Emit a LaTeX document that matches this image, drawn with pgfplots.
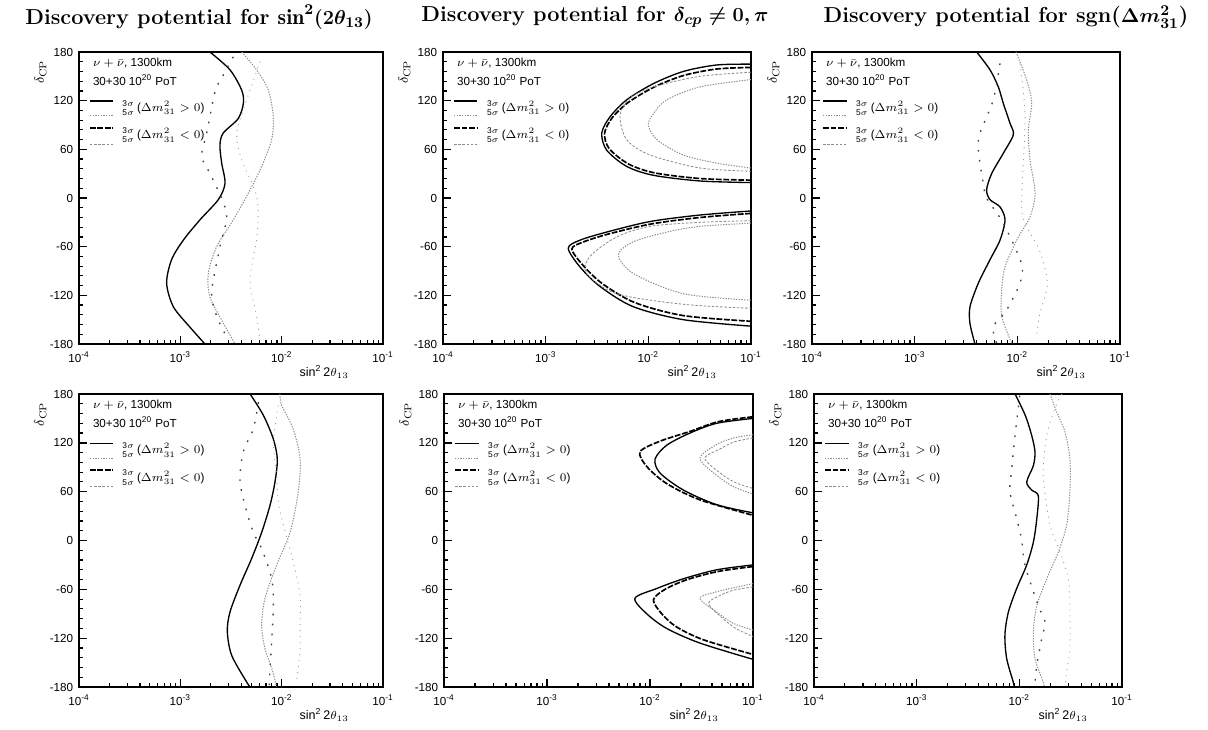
\documentclass[border=0pt]{standalone}
\usepackage{fontspec}
\usepackage{pgfplots}
\pgfplotsset{compat=1.18}
\newfontfamily\arial{Liberation Sans}
\newcommand\lf{\arial\fontsize{7}{8}\selectfont}
\newcommand\smf{\arial\fontsize{5}{5}\selectfont}
\tikzset{
 s3p/.style={black, line width=0.8pt},
 s5p/.style={black!45, line width=0.6pt, dash pattern=on 0.8pt off 0.8pt},
 s3m/.style={black, line width=1pt, dash pattern=on 3.5pt off 1pt},
 s5m/.style={black!45, line width=0.5pt, dash pattern=on 1.5pt off 1pt},
 f3m/.style={black!75, line width=0.8pt, dash pattern=on 1pt off 5pt},
 f5m/.style={black!40, line width=0.5pt, dash pattern=on 0.6pt off 3pt},
}
\pgfplotsset{
  scale only axis, xmin=1e-4, xmax=1e-1, ymin=-180, ymax=180,
  axis line style={line width=0.9pt},
  tick pos=left, tick align=inside,
  major tick length=5pt, minor tick length=2.6pt,
  major tick style={black, line width=0.8pt},
  minor tick style={black, line width=0.7pt},
  xtick={1e-4,1e-3,1e-2,1e-1},
  xticklabels={10\textsuperscript{-4},10\textsuperscript{-3},10\textsuperscript{-2},10\textsuperscript{-1}},
  minor xtick={2e-4,3e-4,4e-4,5e-4,6e-4,7e-4,8e-4,9e-4,2e-3,3e-3,4e-3,5e-3,6e-3,7e-3,8e-3,9e-3,2e-2,3e-2,4e-2,5e-2,6e-2,7e-2,8e-2,9e-2},
  ytick={-180,-120,-60,0,60,120,180},
  minor ytick={-168,-156,-144,-132,-108,-96,-84,-72,-48,-36,-24,-12,12,24,36,48,72,84,96,108,132,144,156,168},
  tick label style={font=\arial\fontsize{7}{8}\selectfont},
  yticklabel style={/pgf/number format/assume math mode=true},
  xticklabel style={yshift=-1pt},
  xlabel={sin\textsuperscript{2}\,2$\theta_{13}$},
  xlabel style={font=\arial\fontsize{7.5}{9}\selectfont, at={(rel axis cs:1,0)}, anchor=east, xshift=-17pt, yshift=-16.8pt},
  ylabel={$\delta_{\mathrm{CP}}$},
  ylabel style={font=\fontsize{8}{9}\selectfont, at={(rel axis cs:0,1)}, anchor=center, yshift=23pt, xshift=-12pt},
}
\newcommand\panellegend{%
 \node[anchor=west,font=\lf,inner sep=0pt] at (rel axis cs:0.045,0.962) {$\nu+\bar{\nu}$, 1300km};
 \node[anchor=west,font=\lf,inner sep=0pt] at (rel axis cs:0.045,0.904) {30+30 10\textsuperscript{20} PoT};
 \draw[s3p] (rel axis cs:0.036,0.832) -- (rel axis cs:0.112,0.832);
 \draw[s5p] (rel axis cs:0.036,0.781) -- (rel axis cs:0.112,0.781);
 \draw[s3m] (rel axis cs:0.036,0.740) -- (rel axis cs:0.112,0.740);
 \draw[s5m] (rel axis cs:0.036,0.685) -- (rel axis cs:0.112,0.685);
 \node[font=\smf,inner sep=0pt] at (rel axis cs:0.162,0.824) {3$\sigma$};
 \node[font=\smf,inner sep=0pt] at (rel axis cs:0.162,0.792) {5$\sigma$};
 \node[font=\smf,inner sep=0pt] at (rel axis cs:0.162,0.731) {3$\sigma$};
 \node[font=\smf,inner sep=0pt] at (rel axis cs:0.162,0.699) {5$\sigma$};
 \node[anchor=west,font=\lf,inner sep=0pt] at (rel axis cs:0.19,0.808) {($\Delta m^2_{31} > 0$)};
 \node[anchor=west,font=\lf,inner sep=0pt] at (rel axis cs:0.19,0.715) {($\Delta m^2_{31} < 0$)};
}
\begin{document}
\begin{tikzpicture}
\path[use as bounding box] (0,0) rectangle (724.8pt,437.4pt);
\node[font=\fontsize{13}{15}\selectfont\bfseries\boldmath] at (119.4pt,427.2pt) {Discovery potential for $\sin^2(2\theta_{13})$};
\node[font=\fontsize{13}{15}\selectfont\bfseries\boldmath] at (357pt,427.2pt) {Discovery potential for $\delta_{cp}\neq 0,\pi$};
\node[font=\fontsize{13}{15}\selectfont\bfseries\boldmath] at (603.6pt,427.2pt) {Discovery potential for sgn($\Delta m^2_{31}$)};

% ---------- Panel 1 ----------
\begin{axis}[xmode=log, at={(47.4pt,231pt)}, anchor=south west, width=182.4pt, height=175.2pt]
\addplot[s3p, smooth] coordinates {(1.96e-3,180)(3.09e-3,158)(4.03e-3,133)(4.19e-3,117)(3.73e-3,98)(2.65e-3,80)(2.46e-3,65)(2.56e-3,43)(2.76e-3,18)(2.37e-3,-2)(1.56e-3,-27)(1.07e-3,-52)(8.20e-4,-76)(7.33e-4,-105)(8.53e-4,-134)(1.24e-3,-159)(1.75e-3,-180)};
\addplot[s5p, smooth] coordinates {(4.04e-3,180)(5.66e-3,158)(7.38e-3,133)(8.28e-3,100)(7.96e-3,72)(6.35e-3,39)(4.88e-3,10)(3.33e-3,-27)(2.28e-3,-60)(1.89e-3,-93)(1.96e-3,-122)(2.65e-3,-154)(3.47e-3,-180)};
\addplot[f3m, smooth] coordinates {(3.33e-3,174)(2.56e-3,148)(2.20e-3,131)(1.82e-3,80)(1.63e-3,51)(2.04e-3,26)(2.86e-3,-19)(2.46e-3,-60)(2.04e-3,-116)(2.29e-3,-146)(2.97e-3,-175)};
\addplot[f5m, smooth] coordinates {(6.11e-3,168)(4.52e-3,121)(3.60e-3,80)(4.03e-3,47)(5.67e-3,2)(5.75e-3,-44)(4.88e-3,-101)(5.67e-3,-146)(6.11e-3,-175)};
\panellegend
\end{axis}

% ---------- Panel 2 ----------
\begin{axis}[xmode=log, at={(265.8pt,231pt)}, anchor=south west, width=184.8pt, height=175.2pt]
\addplot[s3p, smooth] coordinates {(0.1,165)(4.63e-2,164)(2.19e-2,156)(1.12e-2,141)(6.15e-3,121)(4.23e-3,100)(3.52e-3,80)(3.93e-3,59)(6.15e-3,39)(1.12e-2,28)(3.18e-2,21)(0.1,19)};
\addplot[s3m, smooth] coordinates {(0.1,161)(4.6e-2,159)(2.2e-2,151)(1.15e-2,137)(6.4e-3,118)(4.45e-3,99)(3.75e-3,80)(4.15e-3,61)(6.4e-3,42)(1.15e-2,31)(3.2e-2,24)(0.1,22)};
\addplot[s5p, smooth] coordinates {(0.1,146)(3.18e-2,137)(1.51e-2,121)(1.12e-2,104)(1.0e-2,90)(1.21e-2,72)(2.19e-2,53)(4.63e-2,43)(0.1,37)};
\addplot[s5m, smooth] coordinates {(0.1,155)(3.18e-2,150)(1.12e-2,137)(6.62e-3,123)(5.30e-3,102)(6.15e-3,72)(1.04e-2,53)(3.18e-2,37)(0.1,33)};
\addplot[s3p, smooth] coordinates {(0.1,-16)(3.18e-2,-21)(1.04e-2,-29)(3.93e-3,-42)(2.16e-3,-52)(1.66e-3,-62)(2.16e-3,-85)(3.38e-3,-109)(7.13e-3,-134)(2.19e-2,-150)(0.1,-158)};
\addplot[s3m, smooth] coordinates {(0.1,-19)(3.2e-2,-24)(1.07e-2,-32)(4.2e-3,-44)(2.35e-3,-54)(1.8e-3,-63)(2.35e-3,-84)(3.6e-3,-106)(7.4e-3,-129)(2.2e-2,-145)(0.1,-152)};
\addplot[s5p, smooth] coordinates {(0.1,-31)(3.18e-2,-35)(1.51e-2,-42)(7.13e-3,-54)(5.11e-3,-70)(7.13e-3,-93)(2.19e-2,-118)(0.1,-126)};
\addplot[s5m, smooth] coordinates {(0.1,-28)(3.18e-2,-30)(1.04e-2,-35)(4.92e-3,-48)(2.70e-3,-72)(2.51e-3,-93)(4.92e-3,-118)(2.19e-2,-131)(0.1,-136)};
\panellegend
\end{axis}

% ---------- Panel 3 ----------
\begin{axis}[xmode=log, at={(487.2pt,231pt)}, anchor=south west, width=184.8pt, height=175.2pt]
\addplot[s3p, smooth] coordinates {(4.02e-3,180)(5.42e-3,158)(6.53e-3,137)(7.29e-3,117)(8.49e-3,92)(9.14e-3,78)(7.29e-3,55)(5.62e-3,30)(5.02e-3,10)(5.42e-3,-2)(6.78e-3,-11)(7.59e-3,-27)(6.78e-3,-52)(5.42e-3,-76)(4.17e-3,-105)(3.46e-3,-134)(3.46e-3,-155)(3.87e-3,-180)};
\addplot[s5p, smooth] coordinates {(9.7e-3,180)(1.23e-2,146)(1.38e-2,117)(1.28e-2,84)(1.33e-2,47)(1.49e-2,6)(1.33e-2,-23)(9.86e-3,-52)(7.59e-3,-85)(7.05e-3,-113)(7.05e-3,-146)(8.9e-3,-180)};
\addplot[f3m, smooth] coordinates {(6.78e-3,166)(5.83e-3,121)(4.33e-3,80)(4.17e-3,59)(4.66e-3,18)(5.02e-3,0)(7.29e-3,-31)(1.10e-2,-81)(1.06e-2,-105)(7.87e-3,-138)(5.83e-3,-159)(6.30e-3,-179)};
\addplot[f5m, smooth] coordinates {(1.06e-2,166)(1.19e-2,100)(1.10e-2,-3)(1.19e-2,-31)(1.66e-2,-66)(1.96e-2,-105)(1.66e-2,-142)(1.55e-2,-167)};
\panellegend
\end{axis}

% ---------- Panel 4 ----------
\begin{axis}[xmode=log, at={(47.4pt,25.2pt)}, anchor=south west, width=182.4pt, height=175.8pt]
\addplot[s3p, smooth] coordinates {(4.88e-3,180)(6.59e-3,154)(8.26e-3,125)(9.06e-3,100)(8.59e-3,72)(7.67e-3,43)(6.35e-3,10)(5.06e-3,-22)(3.88e-3,-55)(3.09e-3,-88)(2.91e-3,-112)(3.21e-3,-141)(4.52e-3,-174)(4.9e-3,-180)};
\addplot[s5p, smooth] coordinates {(9.6e-3,180)(1.00e-2,166)(1.30e-2,137)(1.52e-2,100)(1.46e-2,60)(1.21e-2,10)(8.93e-3,-30)(6.85e-3,-71)(6.35e-3,-104)(6.85e-3,-133)(7.98e-3,-157)(8.93e-3,-180)};
\addplot[f3m, smooth] coordinates {(5.89e-3,170)(5.25e-3,137)(4.18e-3,109)(3.88e-3,74)(4.35e-3,43)(5.25e-3,10)(6.35e-3,-10)(7.98e-3,-47)(8.28e-3,-80)(7.98e-3,-123)(7.67e-3,-158)(7.55e-3,-178)};
\addplot[f5m, smooth] coordinates {(9.27e-3,166)(8.28e-3,121)(8.93e-3,80)(9.27e-3,47)(1.04e-2,19)(1.30e-2,-26)(1.52e-2,-67)(1.52e-2,-104)(1.52e-2,-137)(1.41e-2,-170)};
\panellegend
\end{axis}

% ---------- Panel 5 ----------
\begin{axis}[xmode=log, at={(266.4pt,25.2pt)}, anchor=south west, width=185.4pt, height=175.8pt]
\addplot[s3p, smooth] coordinates {(0.1,150)(4.44e-2,144)(2.44e-2,132)(1.45e-2,117)(1.12e-2,100)(1.25e-2,83)(2.11e-2,62)(4.44e-2,44)(0.1,34)};
\addplot[s3m, smooth] coordinates {(0.1,152)(4.6e-2,146)(2.44e-2,134)(1.25e-2,122)(8.0e-3,109)(9.29e-3,91)(1.45e-2,70)(3.05e-2,50)(0.1,31)};
\addplot[s5p, smooth] coordinates {(0.1,130)(6.5e-2,126)(4.44e-2,118)(3.05e-2,101)(4.44e-2,80)(6.5e-2,66)(0.1,57)};
\addplot[s5m, smooth] coordinates {(0.1,126)(6.5e-2,121)(4.9e-2,113)(3.40e-2,101)(4.9e-2,82)(6.8e-2,71)(0.1,64)};
\addplot[s3p, smooth] coordinates {(0.1,-30)(4.44e-2,-36)(2.11e-2,-47)(1.16e-2,-59)(7.14e-3,-71)(9.29e-3,-90)(1.45e-2,-108)(3.05e-2,-126)(0.1,-146)};
\addplot[s3m, smooth] coordinates {(0.1,-32)(4.6e-2,-38)(2.3e-2,-48)(1.4e-2,-60)(1.08e-2,-73)(1.3e-2,-90)(1.8e-2,-106)(3.3e-2,-122)(0.1,-140)};
\addplot[s5p, smooth] coordinates {(0.1,-53)(6.5e-2,-58)(4.44e-2,-63)(3.05e-2,-71)(4.44e-2,-88)(6.5e-2,-102)(0.1,-110)};
\addplot[s5m, smooth] coordinates {(0.1,-57)(6.5e-2,-61)(4.9e-2,-67)(3.70e-2,-77)(4.9e-2,-94)(6.8e-2,-108)(0.1,-118)};
\panellegend
\end{axis}

% ---------- Panel 6 ----------
\begin{axis}[xmode=log, at={(488.4pt,25.2pt)}, anchor=south west, width=184.8pt, height=175.8pt]
\addplot[s3p, smooth] coordinates {(9.08e-3,180)(1.14e-2,154)(1.32e-2,129)(1.42e-2,109)(1.37e-2,92)(1.18e-2,72)(1.32e-2,62)(1.53e-2,55)(1.48e-2,27)(1.37e-2,-2)(1.18e-2,-30)(9.42e-3,-59)(7.82e-3,-88)(7.24e-3,-116)(7.53e-3,-145)(8.73e-3,-174)(8.9e-3,-180)};
\addplot[s5p, smooth] coordinates {(1.99e-2,180)(2.31e-2,158)(2.79e-2,133)(3.11e-2,100)(3.11e-2,60)(2.89e-2,19)(2.40e-2,-14)(1.85e-2,-47)(1.48e-2,-80)(1.37e-2,-112)(1.42e-2,-145)(1.71e-2,-174)(1.75e-2,-180)};
\addplot[f3m, smooth] coordinates {(1.01e-2,178)(9.08e-3,129)(8.43e-3,88)(8.11e-3,60)(9.42e-3,27)(1.05e-2,2)(1.14e-2,-31)(1.53e-2,-80)(1.78e-2,-100)(1.65e-2,-121)(1.48e-2,-153)(1.42e-2,-176)};
\addplot[f5m, smooth] coordinates {(2.59e-2,180)(2.22e-2,162)(1.85e-2,129)(1.71e-2,80)(1.99e-2,19)(2.49e-2,-14)(3.00e-2,-47)(3.11e-2,-84)(3.11e-2,-133)(2.89e-2,-162)(2.79e-2,-178)};
\panellegend
\end{axis}
\end{tikzpicture}
\end{document}
